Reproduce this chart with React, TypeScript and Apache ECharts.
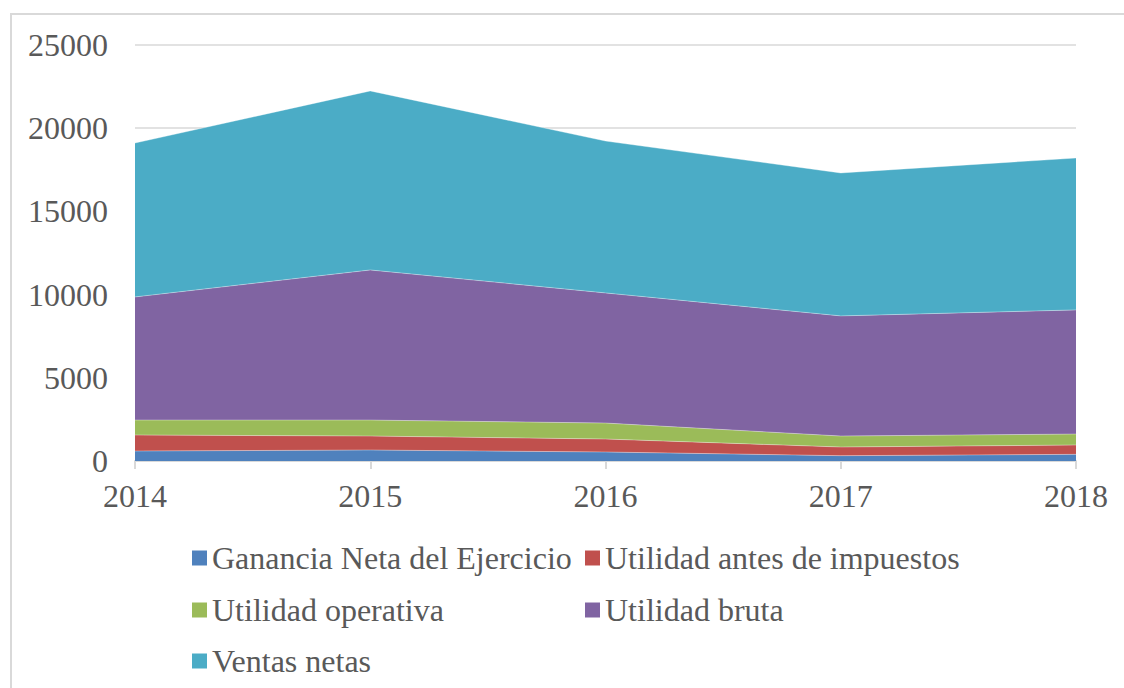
import React, { useEffect, useRef } from "react";
import * as echarts from "echarts";

const years = ["2014", "2015", "2016", "2017", "2018"];
const gananciaNeta = [600, 660, 540, 320, 400];
const utilidadAntes = [960, 840, 780, 520, 560];
const utilidadOperativa = [900, 960, 960, 660, 660];
const utilidadBruta = [7400, 9020, 7820, 7220, 7460];
const ventasNetas = [9250, 10760, 9130, 8590, 9130];

const seriesNames = [
  "Ganancia Neta del Ejercicio",
  "Utilidad antes de impuestos",
  "Utilidad operativa",
  "Utilidad bruta",
  "Ventas netas",
];
const seriesData = [gananciaNeta, utilidadAntes, utilidadOperativa, utilidadBruta, ventasNetas];
const colors = ["#4F81BD", "#C0504D", "#9BBB59", "#8064A2", "#4BACC6"];

const FONT = "'Liberation Serif', 'Times New Roman', serif";
const TEXT = "#595959";

export default function App() {
  const ref = useRef<HTMLDivElement>(null);
  useEffect(() => {
    if (!ref.current) return;
    const chart = echarts.init(ref.current, undefined, { renderer: "svg" });
    const legendPos = [
      { left: 192, top: 541 },
      { left: 585, top: 541 },
      { left: 192, top: 593 },
      { left: 585, top: 593 },
      { left: 192, top: 644 },
    ];
    chart.setOption({
      animation: false,
      color: colors,
      textStyle: { fontFamily: FONT },
      grid: { left: 135, right: 48, top: 45, bottom: 227, containLabel: false },
      xAxis: {
        type: "category",
        data: years,
        boundaryGap: false,
        axisLine: { show: true, lineStyle: { color: "#d9d9d9", width: 2 } },
        axisTick: { show: true, length: 8, lineStyle: { color: "#d9d9d9", width: 2 } },
        axisLabel: { color: TEXT, fontSize: 32, fontFamily: FONT, margin: 19 },
        splitLine: { show: false },
      },
      yAxis: {
        type: "value",
        min: 0,
        max: 25000,
        interval: 5000,
        axisLine: { show: false },
        axisTick: { show: false },
        axisLabel: {
          color: TEXT,
          fontSize: 32,
          fontFamily: FONT,
          margin: 27,
          formatter: (v: number) => String(v),
        },
        splitLine: { lineStyle: { color: "#d9d9d9", width: 1.5 } },
      },
      legend: seriesNames.map((n, i) => ({
        data: [n],
        left: legendPos[i].left,
        top: legendPos[i].top,
        icon: "rect",
        itemWidth: 15,
        itemHeight: 15,
        itemGap: 0,
        padding: 0,
        selectedMode: false,
        textStyle: { color: TEXT, fontSize: 32, fontFamily: FONT, lineHeight: 34 },
      })),
      graphic: [
        {
          type: "rect",
          shape: { x: 11, y: 14, width: 1300, height: 800 },
          style: { fill: "none", stroke: "#d9d9d9", lineWidth: 2 },
          silent: true,
        },
      ],
      series: seriesNames.map((n, i) => ({
        name: n,
        type: "line",
        stack: "total",
        data: seriesData[i],
        symbol: "none",
        lineStyle: { width: 1, color: "rgba(255,255,255,0.35)" },
        areaStyle: { color: colors[i], opacity: 1 },
        itemStyle: { color: colors[i] },
      })),
    });
    return () => chart.dispose();
  }, []);
  return (
    <div
      ref={ref}
      style={{ position: "fixed", left: 0, top: 0, width: 1124, height: 688, background: "#fff" }}
    />
  );
}
